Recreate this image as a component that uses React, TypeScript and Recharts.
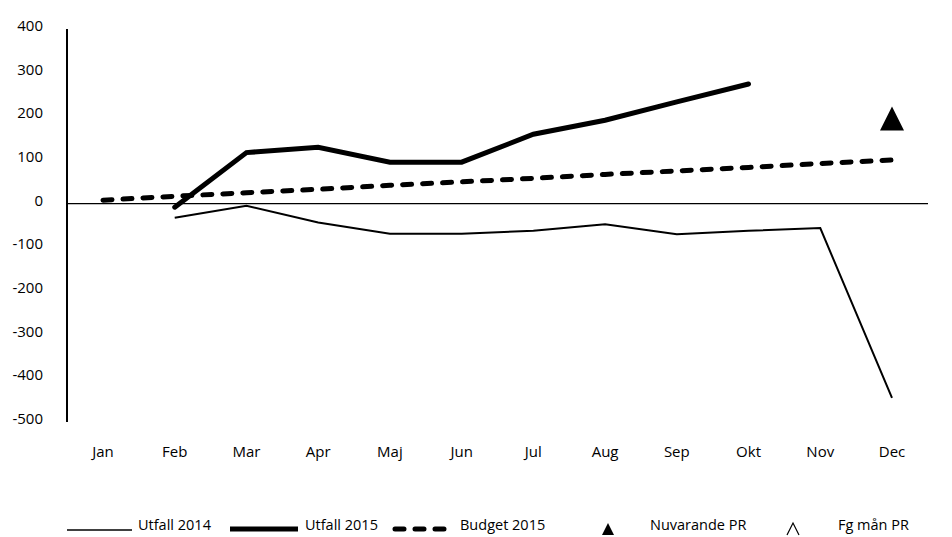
import { LineChart, Line, XAxis, YAxis, ReferenceLine } from "recharts";

const MONTHS = ["Jan", "Feb", "Mar", "Apr", "Maj", "Jun", "Jul", "Aug", "Sep", "Okt", "Nov", "Dec"];
const UTFALL_2014 = [null, -32, -5, -43, -69, -69, -62, -47, -70, -62, -56, -445];
const UTFALL_2015 = [null, -8, 117, 129, 95, 95, 159, 191, 233, 274, null, null];
const BUDGET_2015 = [8, 17, 25, 33, 42, 50, 58, 67, 75, 83, 92, 100];
const NUVARANDE_PR = [null, null, null, null, null, null, null, null, null, null, null, 195];
const FG_MAN_PR = [null, null, null, null, null, null, null, null, null, null, null, null];
const Y_TICKS = [400, 300, 200, 100, 0, -100, -200, -300, -400, -500];

const data = MONTHS.map((m, i) => ({
  month: m,
  u2014: UTFALL_2014[i],
  u2015: UTFALL_2015[i],
  budget: BUDGET_2015[i],
  nuv: NUVARANDE_PR[i],
  fg: FG_MAN_PR[i],
}));

const FONT = "'Open Sans', sans-serif";
const DASH = "9 11";

const YTick = ({ x, y, payload }: any) => (
  <text x={x} y={y - 4} textAnchor="end" dominantBaseline="central" fontSize={15} fontFamily={FONT} fill="#000">
    {payload.value}
  </text>
);

const XTick = ({ x, y, payload }: any) => (
  <text x={x} y={y + 7} textAnchor="middle" dominantBaseline="central" fontSize={15} fontFamily={FONT} fill="#000">
    {payload.value}
  </text>
);

const FilledTriangle = ({ cx, cy, value }: any) => {
  if (value == null || cx == null || cy == null) return <g />;
  return <polygon points={`${cx},${cy - 12} ${cx + 12},${cy + 12} ${cx - 12},${cy + 12}`} fill="#000" />;
};

const OpenTriangle = ({ cx, cy, value }: any) => {
  if (value == null || cx == null || cy == null) return <g />;
  return <polyline points={`${cx - 12},${cy + 12} ${cx},${cy - 12} ${cx + 12},${cy + 12}`} fill="none" stroke="#000" strokeWidth={1.5} />;
};

const LegendRow = () => (
  <svg width={952} height={537} style={{ position: "absolute", left: 0, top: 0, pointerEvents: "none" }}>
    <g fontFamily={FONT} fontSize={14.5} fill="#000">
      <line x1={67} x2={132} y1={530} y2={530} stroke="#000" strokeWidth={1.5} />
      <text x={138} y={524} dominantBaseline="central">Utfall 2014</text>
      <line x1={230} x2={298} y1={529} y2={529} stroke="#000" strokeWidth={5} />
      <text x={305} y={524} dominantBaseline="central">Utfall 2015</text>
      <line x1={395} x2={455} y1={529} y2={529} stroke="#000" strokeWidth={5} strokeDasharray={DASH} strokeLinecap="round" />
      <text x={460} y={524} dominantBaseline="central">Budget 2015</text>
      <polygon points="608,523 614,535 602,535" fill="#000" />
      <text x={650} y={524} dominantBaseline="central">Nuvarande PR</text>
      <polyline points="787,535 793,523 799,535" fill="none" stroke="#000" strokeWidth={1.2} />
      <text x={838} y={524} dominantBaseline="central">Fg mån PR</text>
    </g>
  </svg>
);

export default function App() {
  return (
    <div style={{ position: "absolute", left: 0, top: 0, width: 952, height: 537, background: "#fff" }}>
      <LineChart width={952} height={537} data={data} margin={{ top: 29, right: 24, bottom: 75, left: 0 }}>
        <XAxis
          dataKey="month"
          axisLine={false}
          tickLine={false}
          tickSize={0}
          tickMargin={22}
          height={40}
          padding={{ left: 36, right: 36 }}
          interval={0}
          tick={<XTick />}
        />
        <YAxis
          domain={[-500, 400]}
          ticks={Y_TICKS}
          width={67}
          axisLine={{ stroke: "#000", strokeWidth: 2 }}
          tickLine={false}
          tickSize={0}
          tickMargin={24}
          tick={<YTick />}
        />
        <ReferenceLine y={0} stroke="#000" strokeWidth={1.2} />
        <Line dataKey="budget" stroke="#000" strokeWidth={5} strokeDasharray={DASH} strokeLinecap="round" dot={false} isAnimationActive={false} />
        <Line dataKey="u2014" stroke="#000" strokeWidth={2} dot={false} isAnimationActive={false} />
        <Line dataKey="u2015" stroke="#000" strokeWidth={5} strokeLinecap="round" dot={false} isAnimationActive={false} />
        <Line dataKey="nuv" stroke="none" dot={<FilledTriangle />} activeDot={false} isAnimationActive={false} />
        <Line dataKey="fg" stroke="none" dot={<OpenTriangle />} activeDot={false} isAnimationActive={false} />
      </LineChart>
      <LegendRow />
    </div>
  );
}
